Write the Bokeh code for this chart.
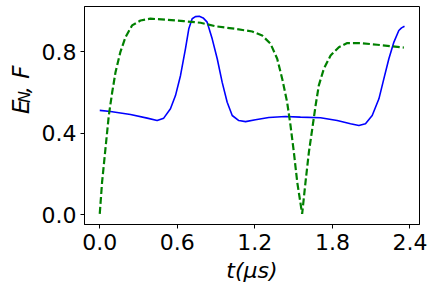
from bokeh.plotting import figure
from bokeh.models import Range1d, FixedTicker, Label
from bokeh.layouts import row
from bokeh.embed import file_html
from bokeh.resources import INLINE
import math

# Blue solid series (E_N)
t_blue = [0.0, 0.083, 0.238, 0.367, 0.444, 0.495, 0.547, 0.586, 0.625, 0.663,
          0.689, 0.715, 0.740, 0.770, 0.800, 0.831, 0.870, 0.909, 0.947, 0.986,
          1.025, 1.076, 1.128, 1.205, 1.308, 1.437, 1.553, 1.708, 1.837, 1.940,
          2.005, 2.056, 2.108, 2.160, 2.198, 2.237, 2.276, 2.314, 2.335, 2.358]
e_blue = [0.512, 0.507, 0.492, 0.474, 0.462, 0.474, 0.520, 0.585, 0.684, 0.815,
          0.913, 0.963, 0.973, 0.975, 0.967, 0.946, 0.864, 0.766, 0.651, 0.552,
          0.487, 0.462, 0.457, 0.466, 0.477, 0.482, 0.479, 0.476, 0.462, 0.446,
          0.438, 0.446, 0.487, 0.569, 0.667, 0.766, 0.848, 0.905, 0.918, 0.926]

# Green dashed series (F)
t_green = [0.0, 0.018, 0.044, 0.070, 0.096, 0.122, 0.160, 0.199, 0.250, 0.315,
           0.392, 0.520, 0.650, 0.780, 0.895, 1.050, 1.180, 1.257, 1.321, 1.373,
           1.412, 1.450, 1.476, 1.502, 1.528, 1.566, 1.592, 1.618, 1.644, 1.670,
           1.695, 1.734, 1.786, 1.850, 1.915, 2.018, 2.147, 2.250, 2.353]
f_green = [0.003, 0.159, 0.323, 0.487, 0.600, 0.700, 0.800, 0.872, 0.930, 0.954,
           0.963, 0.958, 0.951, 0.943, 0.926, 0.913, 0.900, 0.880, 0.840, 0.766,
           0.667, 0.552, 0.438, 0.306, 0.159, 0.003, 0.159, 0.306, 0.420, 0.536,
           0.635, 0.717, 0.782, 0.823, 0.843, 0.843, 0.835, 0.828, 0.821]

x_ticks = [0.0, 0.6, 1.2, 1.8, 2.4]
x_tick_labels = ["0.0", "0.6", "1.2", "1.8", "2.4"]
y_ticks = [0.0, 0.4, 0.8]
y_tick_labels = ["0.0", "0.4", "0.8"]
x_label = "t(μs)"

FONT = "DejaVu Sans"
FS = "22px"

p = figure(width=398, height=294, output_backend="svg", toolbar_location=None,
           x_range=Range1d(-0.118, 2.474), y_range=Range1d(-0.049, 1.023),
           min_border_left=46, min_border_right=17, min_border_top=6,
           min_border_bottom=70)
p.grid.visible = False
p.background_fill_color = "white"
p.border_fill_color = "white"
p.outline_line_color = "black"
p.outline_line_width = 1

p.line(t_blue, e_blue, line_color="#0000ff", line_width=1.6)
p.line(t_green, f_green, line_color="#008000", line_width=2.2, line_dash="7 3")

for ax, ticks, labels in ((p.xaxis[0], x_ticks, x_tick_labels),
                          (p.yaxis[0], y_ticks, y_tick_labels)):
    ax.ticker = FixedTicker(ticks=ticks)
    ax.major_label_overrides = {t: l for t, l in zip(ticks, labels)}
    ax.major_label_text_font = FONT
    ax.major_label_text_font_size = FS
    ax.major_label_text_color = "black"
    ax.axis_line_color = "black"
    ax.major_tick_line_color = "black"
    ax.major_tick_out = 4
    ax.major_tick_in = 0
    ax.minor_tick_line_color = None
p.xaxis.major_label_standoff = 5
p.yaxis.major_label_standoff = 4
p.xaxis.axis_label = x_label
p.xaxis.axis_label_text_font = FONT
p.xaxis.axis_label_text_font_style = "italic"
p.xaxis.axis_label_text_font_size = FS
p.xaxis.axis_label_text_color = "black"
p.xaxis.axis_label_standoff = 5

# narrow panel holding the rotated y label  E_N, F
q = figure(width=38, height=294, output_backend="svg", toolbar_location=None,
           x_range=Range1d(0, 38), y_range=Range1d(0, 294),
           x_axis_location=None, y_axis_location=None,
           min_border_left=0, min_border_right=0, min_border_top=0,
           min_border_bottom=0)
q.grid.visible = False
q.outline_line_color = None
q.background_fill_color = "white"
q.border_fill_color = "white"

def ylab(x, y, text, size):
    q.add_layout(Label(x=x, y=y, text=text, angle=math.pi / 2,
                       text_font=FONT, text_font_style="italic",
                       text_font_size=size, text_align="left",
                       text_baseline="alphabetic", text_color="black"))

ylab(20, 149, "E", "23px")
ylab(24, 164, "N", "16px")
ylab(20, 177, ", F", "23px")

layout = row(q, p)
open("out.html", "w").write(file_html(layout, INLINE))
